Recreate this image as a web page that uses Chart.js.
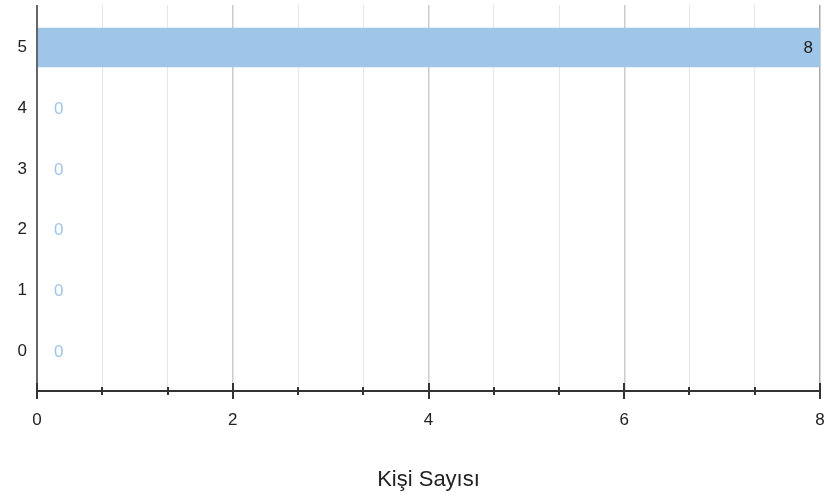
<!DOCTYPE html>
<html lang="tr">
<head>
    <meta charset="UTF-8">
    <title>Kişi Sayısı</title>
    <script src="https://cdn.jsdelivr.net/npm/chart.js"></script>
    <style>
        body {
            margin: 0;
            padding: 0;
            background: #fff;
        }

        .chart-box {
            width: 824px;
            height: 498px;
        }
    </style>
</head>
<body>
    <div class="chart-box">
        <canvas id="chart"></canvas>
    </div>

    <script>
        // ratings, top to bottom as shown
        const ratings = ['5', '4', '3', '2', '1', '0'];
        const counts = [8, 0, 0, 0, 0, 0];
        const xMin = 0;
        const xMax = 8;
        const xStep = 2 / 3;
        const xLabelEvery = 2;
        const axisTitle = 'Kişi Sayısı';

        const barColor = '#9fc5e8';

        Chart.defaults.font.family = 'Arial, "Liberation Sans", sans-serif';
        Chart.defaults.color = '#222';

        function isLabeled(v) {
            const r = Math.round(v);
            return Math.abs(v - r) < 1e-6 && r % xLabelEvery === 0;
        }

        // rating position on the y axis (top row = highest)
        const points = counts.map((c, i) => ({ x: c, y: ratings.length - 1 - i }));

        const valueLabels = {
            id: 'valueLabels',
            afterDatasetsDraw(chart) {
                const ctx = chart.ctx;
                const meta = chart.getDatasetMeta(0);
                ctx.save();
                ctx.font = '17px Arial, "Liberation Sans", sans-serif';
                ctx.textBaseline = 'middle';
                meta.data.forEach((bar, i) => {
                    const v = counts[i];
                    if (v > 0) {
                        ctx.fillStyle = '#222';
                        ctx.textAlign = 'right';
                        ctx.fillText(String(v), bar.x - 7, bar.y + 1);
                    } else {
                        ctx.fillStyle = barColor;
                        ctx.textAlign = 'left';
                        ctx.fillText(String(v), bar.base + 17, bar.y + 1);
                    }
                });
                ctx.restore();
            }
        };

        // tick marks crossing the x axis line, y axis line on top
        const crossTicks = {
            id: 'crossTicks',
            afterDraw(chart) {
                const ctx = chart.ctx;
                const xs = chart.scales.x;
                const area = chart.chartArea;
                ctx.save();
                ctx.strokeStyle = '#666';
                ctx.lineWidth = 2;
                ctx.beginPath();
                ctx.moveTo(area.left, area.top);
                ctx.lineTo(area.left, area.bottom);
                ctx.stroke();
                ctx.strokeStyle = '#333';
                xs.ticks.forEach(t => {
                    const px = Math.round(xs.getPixelForValue(t.value));
                    const len = isLabeled(t.value) ? 8 : 4;
                    ctx.beginPath();
                    ctx.moveTo(px, area.bottom - len);
                    ctx.lineTo(px, area.bottom + len);
                    ctx.stroke();
                });
                ctx.restore();
            }
        };

        const ctx = document.getElementById('chart').getContext('2d');
        new Chart(ctx, {
            type: 'bar',
            data: {
                datasets: [{
                    data: points,
                    backgroundColor: barColor,
                    borderWidth: 0,
                    borderRadius: 3,
                    barThickness: 39
                }]
            },
            options: {
                indexAxis: 'y',
                responsive: true,
                maintainAspectRatio: false,
                animation: false,
                layout: {
                    padding: { top: 5, right: 4, left: 0, bottom: 0 }
                },
                plugins: {
                    legend: { display: false },
                    tooltip: { enabled: false }
                },
                scales: {
                    x: {
                        type: 'linear',
                        position: 'bottom',
                        min: xMin,
                        max: xMax,
                        afterFit(scale) {
                            scale.height = 107;
                            scale.paddingLeft = 0;
                            scale.paddingRight = 0;
                        },
                        ticks: {
                            stepSize: xStep,
                            maxTicksLimit: 20,
                            autoSkip: false,
                            maxRotation: 0,
                            padding: 19,
                            font: { size: 17 },
                            color: '#222',
                            callback: v => isLabeled(v) ? String(Math.round(v)) : ''
                        },
                        grid: {
                            drawTicks: false,
                            color: c => {
                                const v = c.tick ? c.tick.value : 0;
                                if (Math.abs(v - xMin) < 1e-6) return 'rgba(0,0,0,0)';
                                if (Math.abs(v - xMax) < 1e-6) return '#aaaaaa';
                                return isLabeled(v) ? '#cccccc' : '#e6e6e6';
                            },
                            lineWidth: c => (c.tick && isLabeled(c.tick.value)) ? 1.5 : 1
                        },
                        border: { color: '#333', width: 2 },
                        title: {
                            display: true,
                            text: axisTitle,
                            color: '#222',
                            font: { size: 22 },
                            padding: { top: 0, bottom: 5 }
                        }
                    },
                    y: {
                        type: 'linear',
                        offset: false,
                        min: -0.66,
                        max: 5.7,
                        afterFit(scale) {
                            scale.width = 37;
                            scale.paddingTop = 0;
                            scale.paddingBottom = 0;
                        },
                        afterBuildTicks(scale) {
                            scale.ticks = points.map(p => ({ value: p.y }));
                        },
                        ticks: {
                            padding: 10,
                            font: { size: 17 },
                            color: '#222',
                            callback: v => ratings[ratings.length - 1 - v]
                        },
                        grid: { display: false, drawTicks: false, offset: false },
                        border: { display: false }
                    }
                }
            },
            plugins: [valueLabels, crossTicks]
        });
    </script>
</body>
</html>
